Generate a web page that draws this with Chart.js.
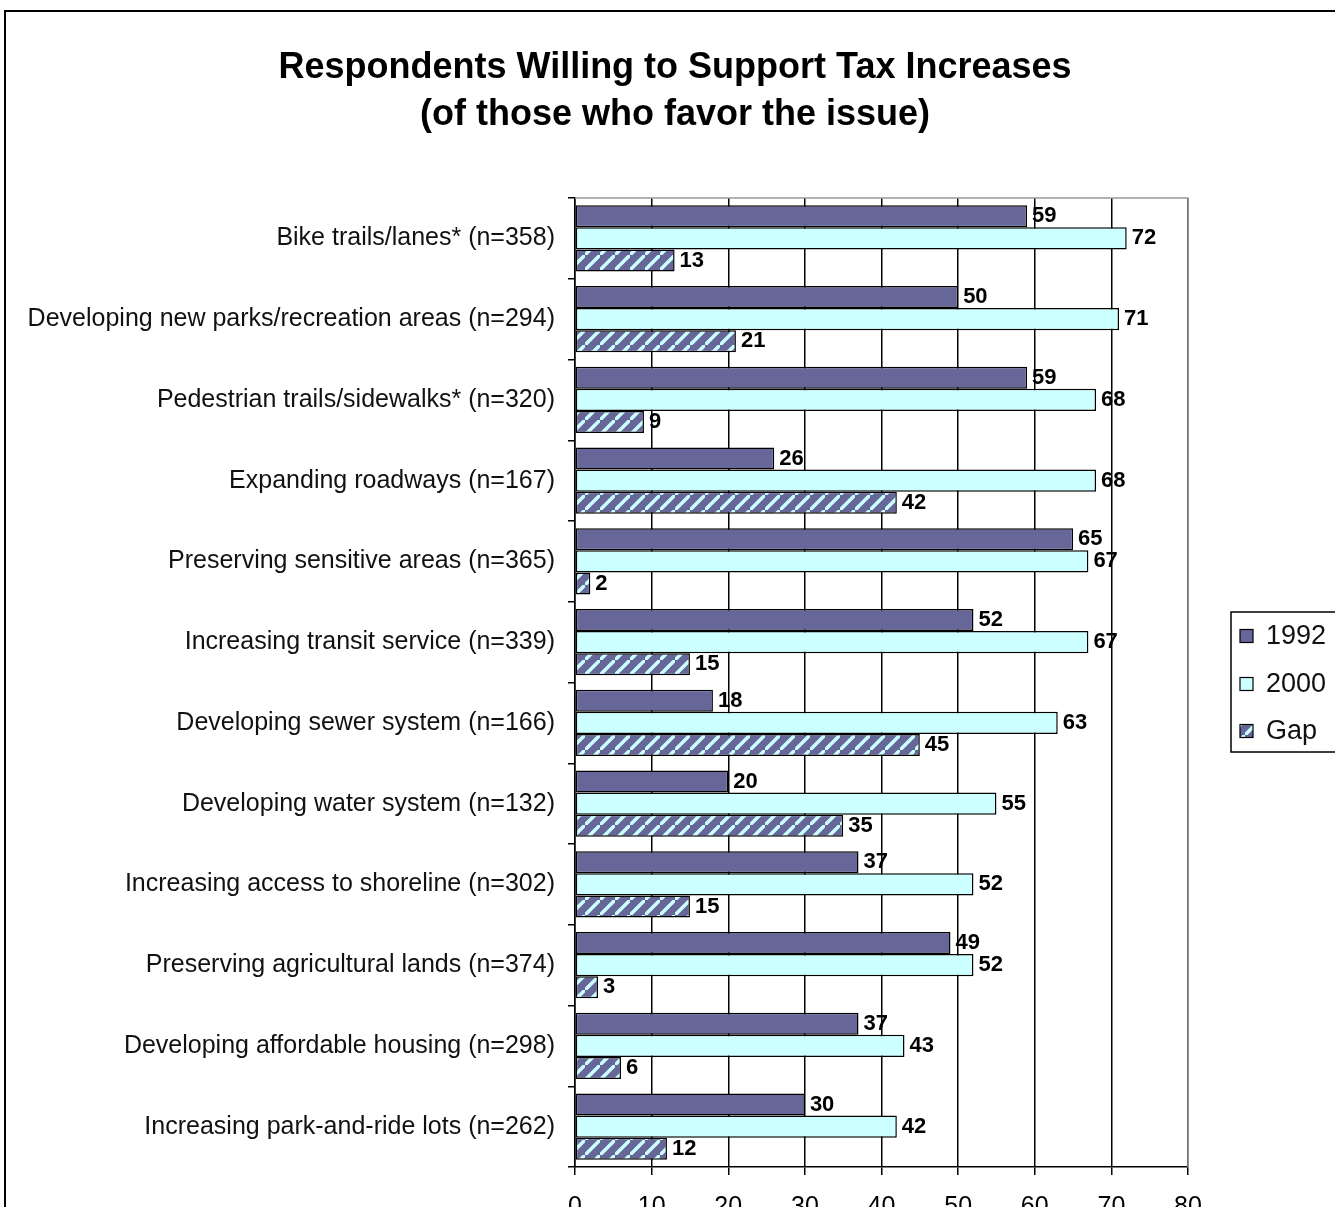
<!DOCTYPE html>
<html lang="en">
<head>
    <meta charset="UTF-8">
    <title>Respondents Willing to Support Tax Increases</title>
    <script src="https://cdn.jsdelivr.net/npm/chart.js"></script>
    <style>
        html, body { margin: 0; padding: 0; background: #fff; overflow: hidden; }
        .chart-box { width: 1335px; height: 1207px; }
    </style>
</head>
<body>
<div class="chart-box">
    <canvas id="taxChart" width="1335" height="1207"></canvas>
</div>
<script>
// categories (issues)
const categories = [
    "Bike trails/lanes* (n=358)",
    "Developing new parks/recreation areas (n=294)",
    "Pedestrian trails/sidewalks* (n=320)",
    "Expanding roadways (n=167)",
    "Preserving sensitive areas (n=365)",
    "Increasing transit service (n=339)",
    "Developing sewer system (n=166)",
    "Developing water system (n=132)",
    "Increasing access to shoreline (n=302)",
    "Preserving agricultural lands (n=374)",
    "Developing affordable housing (n=298)",
    "Increasing park-and-ride lots (n=262)"
];
const values1992 = [59, 50, 59, 26, 65, 52, 18, 20, 37, 49, 37, 30];
const values2000 = [72, 71, 68, 68, 67, 67, 63, 55, 52, 52, 43, 42];
const valuesGap  = [13, 21, 9, 42, 2, 15, 45, 35, 15, 3, 6, 12];
const xTicks = [0, 10, 20, 30, 40, 50, 60, 70, 80];

const titleLines = ["Respondents Willing to Support Tax Increases", "(of those who favor the issue)"];

// hatch pattern for the Gap series
function makeHatch() {
    const s = 15;
    const c = document.createElement("canvas");
    c.width = s; c.height = s;
    const g = c.getContext("2d");
    g.fillStyle = "#666699";
    g.fillRect(0, 0, s, s);
    g.strokeStyle = "#ccffff";
    g.lineWidth = 3.5;
    g.beginPath();
    g.moveTo(-2, s + 2); g.lineTo(s + 2, -2);
    g.moveTo(-s - 2, 2); g.lineTo(2, -s - 2);
    g.moveTo(s - 2, 2 * s + 2); g.lineTo(2 * s + 2, s - 2);
    g.stroke();
    return g.createPattern(c, "repeat");
}

const labelFont = "Liberation Sans, Arial, sans-serif";

// draws the frame, title, top/right border, bar values and legend
const decorPlugin = {
    id: "decor",
    beforeDraw(chart) {
        const ctx = chart.ctx;
        ctx.save();
        ctx.fillStyle = "#fff";
        ctx.fillRect(0, 0, chart.width, chart.height);
        ctx.strokeStyle = "#000";
        ctx.lineWidth = 2;
        ctx.strokeRect(5, 11, chart.width + 20, chart.height + 20);
        ctx.fillStyle = "#000";
        ctx.font = "bold 36px " + labelFont;
        ctx.textAlign = "center";
        ctx.textBaseline = "middle";
        ctx.fillText(titleLines[0], 675, 68);
        ctx.fillText(titleLines[1], 675, 115);
        ctx.restore();
    },
    afterDatasetsDraw(chart) {
        const ctx = chart.ctx;
        const area = chart.chartArea;
        ctx.save();
        // gray border top/right of plot
        ctx.strokeStyle = "#999";
        ctx.lineWidth = 1.5;
        ctx.beginPath();
        ctx.moveTo(area.left, area.top);
        ctx.lineTo(area.right, area.top);
        ctx.lineTo(area.right, area.bottom);
        ctx.stroke();

        // value labels
        ctx.fillStyle = "#000";
        ctx.font = "bold 22px " + labelFont;
        ctx.textAlign = "left";
        ctx.textBaseline = "middle";
        chart.data.datasets.forEach((ds, i) => {
            chart.getDatasetMeta(i).data.forEach((bar, j) => {
                ctx.fillText(ds.data[j], bar.x + 5, bar.y);
            });
        });

        // legend
        ctx.strokeStyle = "#000";
        ctx.lineWidth = 1.5;
        ctx.strokeRect(1231, 612, 140, 140);
        ctx.font = "27px " + labelFont;
        const legY = [636, 684, 731];
        chart.data.datasets.forEach((ds, i) => {
            ctx.fillStyle = ds.backgroundColor;
            ctx.fillRect(1240, legY[i] - 6.5, 13, 13);
            ctx.lineWidth = 1.2;
            ctx.strokeRect(1240, legY[i] - 6.5, 13, 13);
            ctx.fillStyle = "#111";
            ctx.fillText(ds.label, 1266, legY[i] + 1);
        });
        ctx.restore();
    }
};

const ctx = document.getElementById("taxChart").getContext("2d");
new Chart(ctx, {
    type: "bar",
    data: {
        labels: categories,
        datasets: [
            { label: "1992", data: values1992, backgroundColor: "#666699" },
            { label: "2000", data: values2000, backgroundColor: "#ccffff" },
            { label: "Gap", data: valuesGap, backgroundColor: makeHatch() }
        ]
    },
    options: {
        indexAxis: "y",
        responsive: false,
        animation: false,
        layout: { padding: { top: 198, right: 147, left: 0, bottom: 0 } },
        datasets: {
            bar: {
                categoryPercentage: 0.82,
                barPercentage: 1,
                borderColor: "#000",
                borderWidth: 1.5,
                borderSkipped: false
            }
        },
        plugins: {
            legend: { display: false },
            title: { display: false },
            tooltip: { enabled: false }
        },
        scales: {
            x: {
                min: 0,
                max: 80,
                afterFit(scale) { scale.height = 40; },
                afterBuildTicks(scale) { scale.ticks = xTicks.map(v => ({ value: v })); },
                grid: { color: "#000", lineWidth: 1.5, tickLength: 8, tickColor: "#000" },
                border: { color: "#000", width: 1.5 },
                ticks: { color: "#000", padding: 17, font: { family: labelFont, size: 25 } }
            },
            y: {
                afterFit(scale) { scale.width = 575; },
                grid: { offset: true, drawOnChartArea: false, tickLength: 7, tickColor: "#000", lineWidth: 1.5 },
                border: { color: "#000", width: 1.5 },
                ticks: { color: "#111", padding: 13, font: { family: labelFont, size: 25 } }
            }
        }
    },
    plugins: [decorPlugin]
});
</script>
</body>
</html>
